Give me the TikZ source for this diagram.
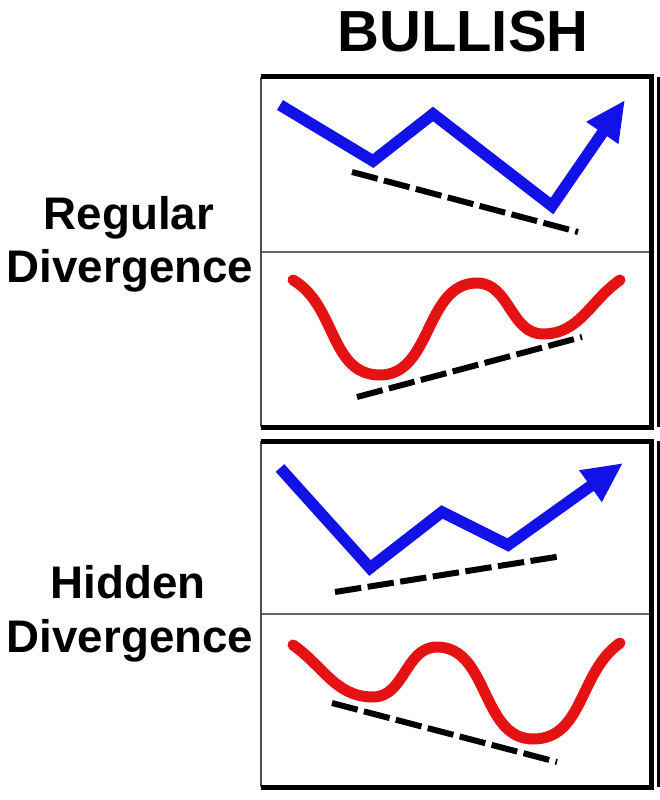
\documentclass[tikz,border=0pt]{standalone}
\usepackage{fontspec}
\setmainfont{Liberation Sans}
\usetikzlibrary{arrows.meta}
\definecolor{priceblue}{RGB}{18,18,232}
\definecolor{oscred}{RGB}{228,18,18}
\tikzstyle{headtext}  = [font=\bfseries\fontsize{33}{36}\selectfont, inner sep=0pt, anchor=base]
\tikzstyle{sidetext}  = [font=\bfseries\fontsize{26}{30}\selectfont, inner sep=0pt, anchor=base]
\tikzstyle{boxedge}   = [line width=0.1cm, black]
\tikzstyle{boxleft}   = [line width=0.04cm, black!70]
\tikzstyle{divider}   = [line width=0.04cm, black!60]
\tikzstyle{price}     = [line width=0.23cm, priceblue, line join=miter, -{Triangle[length=0.8cm,width=0.72cm]}]
\tikzstyle{osc}       = [line width=0.22cm, oscred, line cap=round]
\tikzstyle{trend}     = [line width=0.12cm, black, dash pattern=on 0.53cm off 0.13cm]

\begin{document}
\begin{tikzpicture}[x=0.02cm,y=-0.02cm]
\useasboundingbox (0,0) rectangle (659,800);

% titles
\node[headtext] (bull) at (463,52) {BULLISH};

\node[sidetext] (reg)   at (129,230) {Regular};
\node[sidetext] (regdv) at (130,282) {Divergence};
\node[sidetext] (hid)   at (128,598) {Hidden};
\node[sidetext] (hiddv) at (130,652) {Divergence};

% regular divergence box
\draw[divider] (261,252) -- (651,252);
\draw[boxleft] (261,77) -- (261,427);
\draw[boxedge] (261,77) -- (651,77) -- (651,427) -- (261,427);
\draw[line width=0.06cm] (658,77) -- (658,427);

\draw[price] (280,105) -- (373,161) -- (433,114) -- (552,206) -- (625,100);
\draw[trend] (352,172) -- (578,232);

\draw[osc] (293,280) to[out=-30,in=180] (380,375) to[out=0,in=180] (477,283)
           to[out=0,in=180] (543,334) to[out=0,in=215] (620,280);
\draw[trend] (357,397) -- (582,337);

% hidden divergence box
\draw[divider] (261,614) -- (651,614);
\draw[boxleft] (261,441) -- (261,787);
\draw[boxedge] (261,441) -- (651,441) -- (651,787) -- (261,787);
\draw[line width=0.06cm] (658,441) -- (658,787);

\draw[price] (280,468) -- (370,568) -- (442,512) -- (508,545) -- (623,463);
\draw[trend] (335,592) -- (562,556);

\draw[osc] (293,645) to[out=-35,in=180] (373,697) to[out=0,in=180] (437,647)
           to[out=0,in=180] (533,739) to[out=0,in=215] (620,643);
\draw[trend] (332,703) -- (557,762);

\end{tikzpicture}
\end{document}
